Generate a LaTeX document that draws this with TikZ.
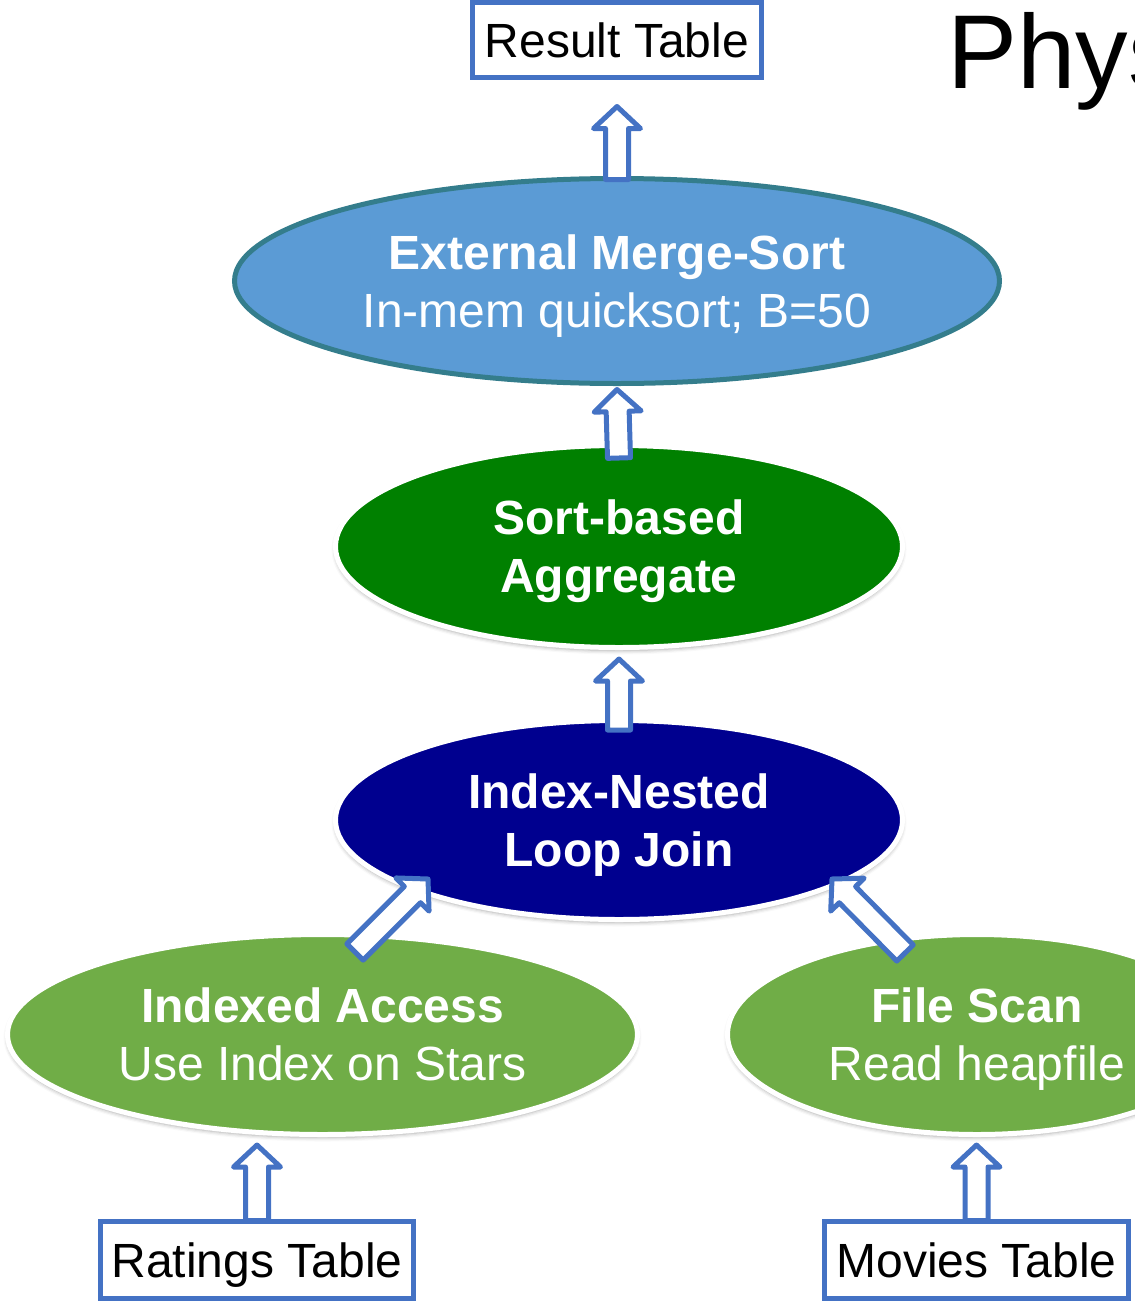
\documentclass[tikz,border=0pt]{standalone}
\usepackage{fontspec}
\setmainfont{Liberation Sans}
\usetikzlibrary{shapes.geometric,calc,shadows.blur}

\definecolor{boxblue}{RGB}{68,114,196}
\definecolor{sortblue}{RGB}{91,155,213}
\definecolor{sortrim}{RGB}{52,125,140}
\definecolor{aggGreen}{RGB}{0,128,0}
\definecolor{joinNavy}{RGB}{0,0,143}
\definecolor{scanGreen}{RGB}{112,173,71}

\tikzset{
  tablebox/.style={draw=boxblue, line width=5pt, fill=white, inner sep=0pt,
    outer sep=0pt, font=\fontsize{48}{58}\selectfont, text height=34.4pt,
    text depth=0pt},
  opnode/.style={ellipse, inner sep=0pt, outer sep=0pt, text=white,
    align=center, font=\fontsize{48}{58}\selectfont, text depth=0pt},
  rimmed/.style={draw=white, line width=5pt,
    blur shadow={shadow xshift=0pt, shadow yshift=-3pt,
      shadow blur radius=4pt, shadow opacity=35}},
  flow/.style={draw=boxblue, line width=5pt, line join=round, fill=white},
}

% hollow block arrow from tail #1 to tip #2
\newcommand\blockarrow[2]{%
  \coordinate (bahead) at ($(#2)!22pt!(#1)$);
  \path[flow] ($(#1)!11.5pt!90:(#2)$) -- ($(bahead)!11.5pt!90:(#2)$)
    -- ($(bahead)!23.5pt!90:(#2)$) -- (#2)
    -- ($(bahead)!23.5pt!-90:(#2)$) -- ($(bahead)!11.5pt!-90:(#2)$)
    -- ($(#1)!11.5pt!-90:(#2)$) -- cycle;
}

\begin{document}
\begin{tikzpicture}[x=1pt, y=-1pt]
  \useasboundingbox (0,0) rectangle (1135,1304);
  \clip (0,0) rectangle (1135,1304);

  \node[anchor=base west, inner sep=0pt, font=\fontsize{105}{120}\selectfont]
    (title) at (947,88) {Phys};

  % operators
  \node[opnode, fill=sortblue, draw=sortrim, line width=5pt,
        minimum width=765pt, minimum height=205pt] (mergesort) at (617,281)
    {\textbf{External Merge-Sort}\\In-mem quicksort; B=50};
  \node[opnode, rimmed, fill=aggGreen, minimum width=567pt, minimum height=202pt]
    (aggregate) at (619,546.5) {\textbf{Sort-based}\\\textbf{Aggregate}};
  \node[opnode, rimmed, fill=joinNavy, minimum width=567pt, minimum height=199pt]
    (inlj) at (619,820) {\textbf{Index-Nested}\\\textbf{Loop Join}};
  \node[opnode, rimmed, fill=scanGreen, minimum width=630pt, minimum height=200pt]
    (idxaccess) at (322.5,1034.5) {\textbf{Indexed Access}\\Use Index on Stars};
  \node[opnode, rimmed, fill=scanGreen, minimum width=499pt, minimum height=200pt]
    (filescan) at (977,1034.5) {\textbf{File Scan}\\Read heapfile};

  % tables
  \node[tablebox, minimum width=289pt, minimum height=75pt] (result) at (617,40)
    {Result Table};
  \node[tablebox, minimum width=313pt, minimum height=77pt] (ratings) at (257,1260)
    {Ratings Table};
  \node[tablebox, minimum width=304pt, minimum height=77pt] (movies) at (976.5,1260)
    {Movies Table};

  % data flow
  \coordinate (t1) at ($(mergesort.north)+(0,1)$);
  \coordinate (h1) at ($(result.south)+(0,29)$);
  \blockarrow{t1}{h1}
  \coordinate (t2) at ($(aggregate.north)+(0,12.5)$);
  \coordinate (h2) at ($(mergesort.south)+(0,6)$);
  \blockarrow{t2}{h2}
  \coordinate (t3) at ($(inlj.north)+(0,9.5)$);
  \coordinate (h3) at ($(aggregate.south)+(0,11.5)$);
  \blockarrow{t3}{h3}
  \coordinate (t4) at ($(idxaccess)+(32.5,-82.5)$);
  \coordinate (h4) at ($(inlj)+(-191,59)$);
  \blockarrow{t4}{h4}
  \coordinate (t5) at ($(filescan)+(-72,-81.5)$);
  \coordinate (h5) at ($(inlj)+(213,59)$);
  \blockarrow{t5}{h5}
  \coordinate (t6) at ($(ratings.north)+(0,-1)$);
  \coordinate (h6) at ($(ratings.north |- idxaccess.south)+(0,10.5)$);
  \blockarrow{t6}{h6}
  \coordinate (t7) at ($(movies.north)+(0,-1)$);
  \coordinate (h7) at ($(movies.north |- filescan.south)+(0,10.5)$);
  \blockarrow{t7}{h7}
\end{tikzpicture}
\end{document}
